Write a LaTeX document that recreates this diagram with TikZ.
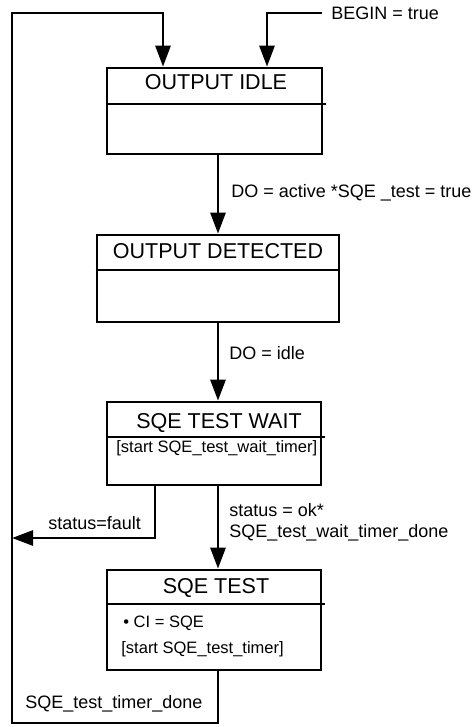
\documentclass[tikz,border=0pt]{standalone}
\usepackage{fontspec}
\setmainfont{Liberation Sans}
\usetikzlibrary{arrows.meta, positioning}

\begin{document}
\begin{tikzpicture}[
        x=1pt, y=-1pt,
        >={Triangle[length=21pt, width=15pt]},
        line width=2.8pt,
        state/.style={
            rectangle,
            draw,
            line width=2.7pt
        },
        title/.style={
            font=\fontsize{21.5}{24}\selectfont,
            anchor=base,
            inner sep=0pt
        },
        action/.style={
            font=\fontsize{16.5}{19}\selectfont,
            anchor=base west,
            inner sep=0pt
        },
        guard/.style={
            font=\fontsize{18}{21}\selectfont,
            anchor=base west,
            inner sep=0pt,
            align=left
        }
    ]
    \useasboundingbox (0,0) rectangle (475,727);

    % States
    \node[state, minimum width=215pt, minimum height=86pt] (idle) at (214.5,111) {};
    \node[state, minimum width=242pt, minimum height=87pt] (detected) at (218,278.5) {};
    \node[state, minimum width=214pt, minimum height=83pt] (wait) at (214,443.5) {};
    \node[state, minimum width=214pt, minimum height=100pt] (test) at (214,620) {};

    % Compartments
    \draw[line width=2.7pt] (idle.west |- 0,104) -- ([xshift=3pt]idle.east |- 0,104);
    \draw[line width=2.7pt] (detected.west |- 0,270) -- (detected.east |- 0,270);
    \draw[line width=2.7pt] (wait.west |- 0,437) -- ([xshift=3pt]wait.east |- 0,437);
    \draw[line width=2.7pt] (test.west |- 0,604) -- ([xshift=3pt]test.east |- 0,604);

    % Titles and actions
    \node[title] (idle title) at (216,90) {OUTPUT IDLE};
    \node[title] (detected title) at (218,258) {OUTPUT DETECTED};
    \node[title] (wait title) at (219,428) {SQE TEST WAIT};
    \node[title] (test title) at (216,593) {SQE TEST};
    \node[action] (wait timer) at (115,452) {[start SQE\_test\_wait\_timer]};
    \node[action] (ci) at (122,627) {• CI = SQE};
    \node[action] (test timer) at (120,653) {[start SQE\_test\_timer]};

    % Guards
    \node[guard] (begin) at (330,19.5) {BEGIN = true};
    \node[guard] (active) at (230,197) {DO = active *SQE \_test = true};
    \node[guard] (do idle) at (228,359) {DO = idle};
    \node[guard] (ok) at (228,537) {status = ok*\\SQE\_test\_wait\_timer\_done};
    \node[guard] (fault) at (47,529) {status=fault};
    \node[guard] (done) at (24,708) {SQE\_test\_timer\_done};

    % Route points
    \coordinate (spine) at (218,0);
    \coordinate (begin start) at (322,13);
    \coordinate (begin entry) at (267,0);
    \coordinate (loop entry) at (163,0);
    \coordinate (top left) at (12,13);
    \coordinate (bottom left) at (12,723);
    \coordinate (fault drop) at (155,538);

    % Arrows
    \draw[->] (begin start) -| (idle.north -| begin entry);
    \draw[->] (idle.south -| spine) -- (detected.north -| spine);
    \draw[->] (detected.south -| spine) -- (wait.north -| spine);
    \draw[->] (wait.south -| spine) -- (test.north -| spine);
    \draw[->] (wait.south -| fault drop) -- (fault drop) -- (fault drop -| top left);
    \draw[->] (test.south -| spine) -- (spine |- bottom left) -- (bottom left)
        -- (top left) -- (top left -| loop entry) -- (idle.north -| loop entry);

\end{tikzpicture}
\end{document}
